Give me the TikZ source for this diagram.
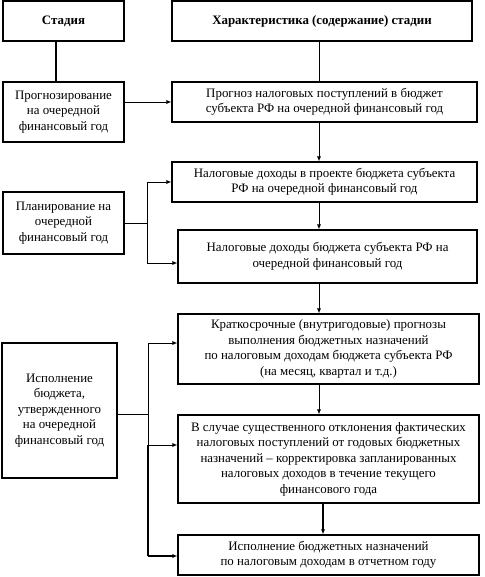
\documentclass[tikz,border=0pt]{standalone}
\usepackage{fontspec}
\setmainfont{Liberation Serif}
\usetikzlibrary{arrows.meta}
\tikzset{
  box/.style={draw, line width=1.1pt, align=center, inner sep=1pt,
    font=\fontsize{12.9}{15.5}\selectfont},
  hdr/.style={box, font=\fontsize{12.9}{15.5}\selectfont\bfseries},
  conn/.style={line width=0.8pt},
  arr/.style={line width=0.8pt, -{Latex[length=5pt,width=4pt]}},
}
\begin{document}
\begin{tikzpicture}[x=1pt,y=1pt]
\useasboundingbox (0,0) rectangle (484,-577);
% header
\node[hdr, minimum width=121, minimum height=40] (h1) at (63.5,-21) {Стадия};
\node[hdr, minimum width=300, minimum height=40] (h2) at (322,-21) {Характеристика (содержание) стадии};
% stages
\node[box, minimum width=121, minimum height=60] (s1) at (63.5,-112) {Прогнозирование\\на очередной\\финансовый год};
\node[box, minimum width=121, minimum height=62] (s2) at (63.5,-223) {Планирование на\\очередной\\финансовый год};
\node[box, minimum width=115, minimum height=135] (s3) at (59.5,-410.5) {Исполнение\\бюджета,\\утвержденного\\на очередной\\финансовый год};
% content
\node[box, minimum width=305, minimum height=40] (c1) at (324.5,-102) {Прогноз налоговых поступлений в бюджет\\субъекта РФ на очередной финансовый год};
\node[box, minimum width=305, minimum height=40] (c2) at (324.5,-182) {Налоговые доходы в проекте бюджета субъекта\\РФ на очередной финансовый год};
\node[box, minimum width=299, minimum height=53] (c3) at (327.5,-256.5) {Налоговые доходы бюджета субъекта РФ на\\очередной финансовый год};
\node[box, minimum width=301, minimum height=70] (c4) at (328.5,-349) {Краткосрочные (внутригодовые) прогнозы\\выполнения бюджетных назначений\\по налоговым доходам бюджета субъекта РФ\\(на месяц, квартал и т.д.)};
\node[box, minimum width=301, minimum height=88] (c5) at (328.5,-459) {В случае существенного отклонения фактических\\налоговых поступлений от годовых бюджетных\\назначений – корректировка запланированных\\налоговых доходов в течение текущего\\финансового года};
\node[box, minimum width=301, minimum height=40] (c6) at (328.5,-555) {Исполнение бюджетных назначений\\по налоговым доходам в отчетном году};
% helper coordinates
\coordinate (xl) at (56,0);
\coordinate (xc) at (319,0);
\coordinate (xd) at (323,0);
\coordinate (b2) at (147,-223);
\coordinate (b2a) at (147,-182);
\coordinate (b2b) at (147,-263);
\coordinate (b3) at (148,-414);
\coordinate (b3a) at (148,-343);
\coordinate (b3b) at (148,-445);
\coordinate (b3c) at (148,-556);
% vertical chain
\draw[line width=1.1pt] (h1.south -| xl) -- (s1.north -| xl);
\draw[conn] (h2.south -| xc) -- (c1.north -| xc);
\draw[arr] (c1.south -| xc) -- (c2.north -| xc);
\draw[arr] (c2.south -| xc) -- (c3.north -| xc);
\draw[arr] (c3.south -| xc) -- (c4.north -| xc);
\draw[arr] (c4.south -| xc) -- (c5.north -| xc);
\draw[arr, line width=1.2pt] (c5.south -| xd) -- (c6.north -| xd);
% stage 1
\draw[arr] (s1.east |- c1) -- (c1.west);
% stage 2
\draw[conn] (s2.east |- b2) -- (b2);
\draw[conn] (b2a) -- (b2b);
\draw[arr] (b2a) -- (c2.west |- b2a);
\draw[arr] (b2b) -- (c3.west |- b2b);
% stage 3
\draw[conn] (s3.east |- b3) -- (b3);
\draw[conn] (b3a) -- (b3b);
\draw[line width=1.2pt] (b3b) -- (b3c);
\draw[arr] (b3a) -- (c4.west |- b3a);
\draw[arr] (b3b) -- (c5.west |- b3b);
\draw[arr, line width=1.2pt] (b3c) -- (c6.west |- b3c);
\end{tikzpicture}
\end{document}
